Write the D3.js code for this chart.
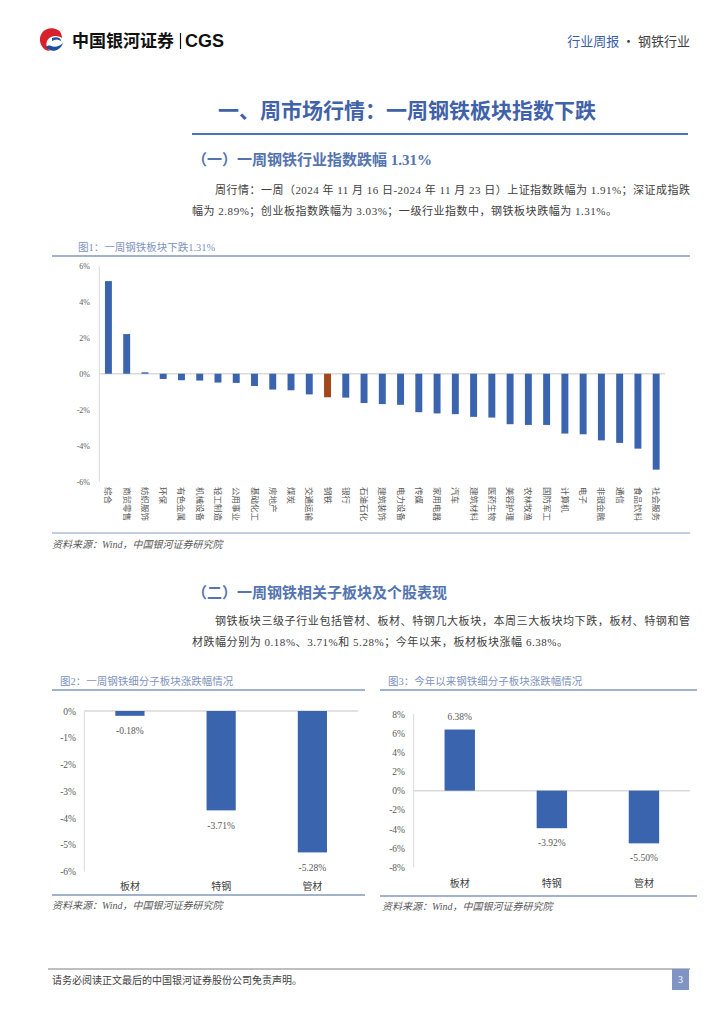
<!DOCTYPE html>
<html><head><meta charset="utf-8">
<script src="https://cdn.jsdelivr.net/npm/d3@7"></script>
<style>body{margin:0;background:#fff;} svg{display:block;}</style>
</head><body><svg id="c" width="724" height="1024"></svg>
<script>
// ---------- data ----------
const industries = ["综合","商贸零售","纺织服饰","环保","有色金属","机械设备","轻工制造","公用事业","基础化工","房地产","煤炭","交通运输","钢铁","银行","石油石化","建筑装饰","电力设备","传媒","家用电器","汽车","建筑材料","医药生物","美容护理","农林牧渔","国防军工","计算机","电子","非银金融","通信","食品饮料","社会服务"];
const weeklyChange = [5.16,2.21,0.08,-0.29,-0.36,-0.38,-0.49,-0.51,-0.68,-0.88,-0.92,-1.15,-1.31,-1.33,-1.63,-1.69,-1.73,-2.14,-2.21,-2.25,-2.40,-2.44,-2.81,-2.85,-2.85,-3.33,-3.37,-3.71,-3.85,-4.17,-5.34];
const highlightIndustry = "钢铁";
const yTicks1 = [-6,-4,-2,0,2,4,6];
const subSectors = ["板材","特钢","管材"];
const weekSub = [-0.18,-3.71,-5.28];
const ytdSub = [6.38,-3.92,-5.50];
const yTicks2 = [-6,-5,-4,-3,-2,-1,0];
const yTicks3 = [-8,-6,-4,-2,0,2,4,6,8];

// ---------- setup ----------
const SERIF = "'Liberation Serif','Noto Sans CJK SC',serif";
const SANS = "'Noto Sans CJK SC','Noto Sans',sans-serif";
const BLUE = "#3b64ae", BROWN = "#a3481a";
const svg = d3.select("#c");
svg.append("rect").attr("width",724).attr("height",1024).attr("fill","#fff");

function txt(x,y,s,o={}){
  const t = svg.append("text").attr("x",x).attr("y",y).text(s)
    .attr("font-family",o.family||SERIF).attr("font-size",o.size||11)
    .attr("fill",o.fill||"#404040");
  if(o.weight) t.attr("font-weight",o.weight);
  if(o.anchor) t.attr("text-anchor",o.anchor);
  if(o.style) t.attr("font-style",o.style);
  if(o.len) t.attr("textLength",o.len).attr("lengthAdjust","spacing");
  return t;
}
function line(x1,y1,x2,y2,c,w){
  svg.append("line").attr("x1",x1).attr("y1",y1).attr("x2",x2).attr("y2",y2)
    .attr("stroke",c).attr("stroke-width",w);
}

// ---------- header ----------
svg.append("path").attr("d","M58 30 C49 25 39 31 40 41 C41 47 45 51 50 51 C45 47 45 40 51 37 C55 35 59 36 62 38 C62 34 60 31 58 30 Z").attr("fill","#d7202a");
svg.append("path").attr("d","M46 47 C50 53 60 52 63 43 C60 46 55 48 51 46 C49 45 47 46 46 47 Z").attr("fill","#1d4f9c");
svg.append("path").attr("d","M52 38 C57 36 61 38 61 41 C58 39 55 39 52 41 Z").attr("fill","#1d4f9c");
txt(72,47,"中国银河证券",{family:SANS,size:17,weight:700,fill:"#111"});
line(180.5,33,180.5,49,"#111",1.2);
txt(185,47,"CGS",{family:"'Liberation Sans',sans-serif",size:18,weight:700,fill:"#111"});
const hr = txt(690,46,"",{family:SANS,size:13,anchor:"end"});
hr.append("tspan").attr("fill","#3b5ca6").text("行业周报");
hr.append("tspan").attr("fill","#404040").text(" · 钢铁行业");

// ---------- section 1 ----------
txt(218,118,"一、周市场行情：一周钢铁板块指数下跌",{family:SANS,size:21,weight:700,fill:"#3f62a8"});
line(192,134,688,134,"#4a72b8",1.8);
txt(192,165,"（一）一周钢铁行业指数跌幅 1.31%",{size:15,weight:700,fill:"#5474b0"});
txt(215,194,"周行情：一周（2024 年 11 月 16 日-2024 年 11 月 23 日）上证指数跌幅为 1.91%；深证成指跌",{size:11,len:475});
txt(192,215,"幅为 2.89%；创业板指数跌幅为 3.03%；一级行业指数中，钢铁板块跌幅为 1.31%。",{size:11,len:425});

// ---------- chart 1 ----------
txt(78,251,"图1：一周钢铁板块下跌1.31%",{size:10.5,fill:"#8093bd"});
line(52,256,690,256,"#8497b8",1.5);
const x1 = d3.scaleBand().domain(industries).range([99.3,665.3]).paddingInner(0.62).paddingOuter(0.31);
const y1 = d3.scaleLinear().domain([-6,6]).range([481.5,266]);
line(99.3,266,99.3,481.5,"#d9d9d9",1);
line(99.3,y1(0),665.3,y1(0),"#d9d9d9",1.5);
const g1 = svg.append("g");
g1.selectAll("rect").data(industries).join("rect")
  .attr("x",d=>x1(d)).attr("width",x1.bandwidth())
  .attr("y",(d,i)=>Math.min(y1(0),y1(weeklyChange[i])))
  .attr("height",(d,i)=>Math.abs(y1(weeklyChange[i])-y1(0)))
  .attr("fill",d=>d===highlightIndustry?BROWN:BLUE);
const ax1 = svg.append("g").attr("transform","translate(90,0)")
  .call(d3.axisLeft(y1).tickValues(yTicks1).tickSize(0).tickPadding(0).tickFormat(d=>d+"%"));
ax1.select(".domain").remove();
ax1.selectAll("text").attr("font-family",SERIF).attr("font-size",8).attr("fill","#595959");
svg.append("g").selectAll("text").data(industries).join("text")
  .attr("transform",d=>`translate(${x1(d)+x1.bandwidth()/2},487) rotate(90)`)
  .attr("dy","0.35em").attr("font-family",SANS).attr("font-size",8.5).attr("fill","#595959")
  .text(d=>d);
line(52,533,690,533,"#c3cce0",2);
txt(52,548,"资料来源：Wind，中国银河证券研究院",{size:10,style:"italic",fill:"#595959"});

// ---------- section 2 ----------
txt(192,598,"（二）一周钢铁相关子板块及个股表现",{size:15,weight:700,fill:"#5474b0"});
txt(215,625,"钢铁板块三级子行业包括管材、板材、特钢几大板块，本周三大板块均下跌，板材、特钢和管",{size:11,len:475});
txt(192,646,"材跌幅分别为 0.18%、3.71%和 5.28%；今年以来，板材板块涨幅 6.38%。",{size:11,len:376});

// ---------- chart 2 ----------
txt(60,685,"图2：一周钢铁细分子板块涨跌幅情况",{size:10.5,fill:"#8093bd"});
line(52,690,365,690,"#8497b8",1.5);
const x2 = d3.scaleBand().domain(subSectors).range([84.3,358]).paddingInner(0.68).paddingOuter(0.34);
const y2 = d3.scaleLinear().domain([-6,0]).range([871.7,711]);
line(84.3,711,84.3,871.7,"#d9d9d9",1);
line(84.3,y2(0),358,y2(0),"#d9d9d9",1.5);
svg.append("g").selectAll("rect").data(subSectors).join("rect")
  .attr("x",d=>x2(d)).attr("width",x2.bandwidth())
  .attr("y",y2(0)).attr("height",(d,i)=>y2(weekSub[i])-y2(0)).attr("fill",BLUE);
svg.append("g").selectAll("text").data(subSectors).join("text")
  .attr("x",d=>x2(d)+x2.bandwidth()/2).attr("y",(d,i)=>y2(weekSub[i])+18.5)
  .attr("text-anchor","middle").attr("font-family",SERIF).attr("font-size",9.5).attr("fill","#595959")
  .text((d,i)=>weekSub[i].toFixed(2)+"%");
const ax2 = svg.append("g").attr("transform","translate(76,0)")
  .call(d3.axisLeft(y2).tickValues(yTicks2).tickSize(0).tickPadding(0).tickFormat(d=>d+"%"));
ax2.select(".domain").remove();
ax2.selectAll("text").attr("font-family",SERIF).attr("font-size",9.5).attr("fill","#595959");
svg.append("g").selectAll("text").data(subSectors).join("text")
  .attr("x",d=>x2(d)+x2.bandwidth()/2).attr("y",890).attr("text-anchor","middle")
  .attr("font-family",SANS).attr("font-size",10).attr("fill","#404040").text(d=>d);
line(52,895,365,895,"#8497b8",1.5);
txt(52,909,"资料来源：Wind，中国银河证券研究院",{size:10,style:"italic",fill:"#595959"});

// ---------- chart 3 ----------
txt(388,685,"图3：今年以来钢铁细分子板块涨跌幅情况",{size:10.5,fill:"#8093bd"});
line(380,690,697,690,"#8497b8",1.5);
const x3 = d3.scaleBand().domain(subSectors).range([413.7,690]).paddingInner(0.67).paddingOuter(0.335);
const y3 = d3.scaleLinear().domain([-8,8]).range([867.3,714]);
line(413.7,714,413.7,867.3,"#d9d9d9",1);
line(413.7,y3(0),690,y3(0),"#d9d9d9",1.5);
svg.append("g").selectAll("rect").data(subSectors).join("rect")
  .attr("x",d=>x3(d)).attr("width",x3.bandwidth())
  .attr("y",(d,i)=>Math.min(y3(0),y3(ytdSub[i])))
  .attr("height",(d,i)=>Math.abs(y3(ytdSub[i])-y3(0))).attr("fill",BLUE);
svg.append("g").selectAll("text").data(subSectors).join("text")
  .attr("x",d=>x3(d)+x3.bandwidth()/2)
  .attr("y",(d,i)=>ytdSub[i]>=0 ? y3(ytdSub[i])-9.5 : y3(ytdSub[i])+17.8)
  .attr("text-anchor","middle").attr("font-family",SERIF).attr("font-size",9.5).attr("fill","#595959")
  .text((d,i)=>ytdSub[i].toFixed(2)+"%");
const ax3 = svg.append("g").attr("transform","translate(405,0)")
  .call(d3.axisLeft(y3).tickValues(yTicks3).tickSize(0).tickPadding(0).tickFormat(d=>d+"%"));
ax3.select(".domain").remove();
ax3.selectAll("text").attr("font-family",SERIF).attr("font-size",9.5).attr("fill","#595959");
svg.append("g").selectAll("text").data(subSectors).join("text")
  .attr("x",d=>x3(d)+x3.bandwidth()/2).attr("y",887).attr("text-anchor","middle")
  .attr("font-family",SANS).attr("font-size",10).attr("fill","#404040").text(d=>d);
line(380,896,697,896,"#8497b8",1.5);
txt(382,910,"资料来源：Wind，中国银河证券研究院",{size:10,style:"italic",fill:"#595959"});

// ---------- footer ----------
line(48,969,690,969,"#7f7f7f",1);
txt(52,984,"请务必阅读正文最后的中国银河证券股份公司免责声明。",{family:SANS,size:10,fill:"#404040"});
svg.append("rect").attr("x",672).attr("y",969).attr("width",17).attr("height",21).attr("fill","#8094c4");
txt(680.5,983,"3",{size:10,fill:"#fff",anchor:"middle"});
</script></body></html>
